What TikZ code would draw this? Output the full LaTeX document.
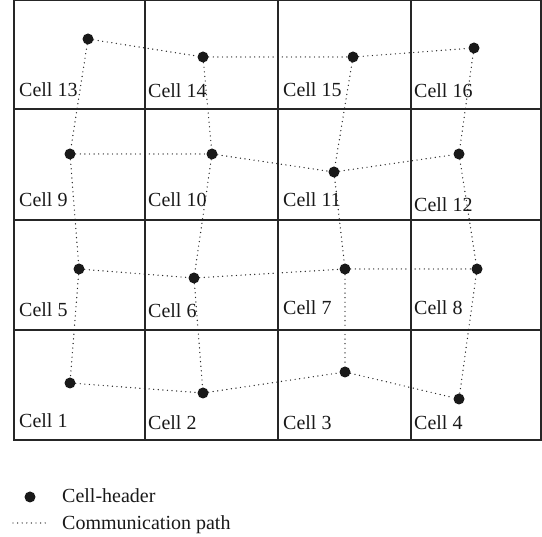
\documentclass[tikz,border=0pt]{standalone}
\usepackage{fontspec}
\setmainfont{Liberation Serif}
\begin{document}
\begin{tikzpicture}[x=1pt,y=-1pt,
  gridline/.style={draw=black!85,line width=1.2pt},
  hdr/.style={circle,fill=black!90,inner sep=0pt,minimum size=11pt},
  commpath/.style={draw=black!85,line width=1.4pt,line cap=round,dash pattern=on 0pt off 4.6pt},
  lbl/.style={anchor=base west,inner sep=0pt,text=black!90,font=\fontsize{20}{24}\selectfont}]
\useasboundingbox (0,0) rectangle (542,537);
% 4x4 grid of cells
\draw[gridline] (14,0.6) rectangle (541,440);
\foreach \xx in {145,278,411} \draw[gridline] (\xx,0.6) -- (\xx,440);
\foreach \yy in {109,220,330} \draw[gridline] (14,\yy) -- (541,\yy);
% cell labels
\node[lbl] (l13) at (19,97) {Cell 13};
\node[lbl] (l14) at (148,98) {Cell 14};
\node[lbl] (l15) at (283,97) {Cell 15};
\node[lbl] (l16) at (414,98) {Cell 16};
\node[lbl] (l9) at (19,207) {Cell 9};
\node[lbl] (l10) at (148,207) {Cell 10};
\node[lbl] (l11) at (283,207) {Cell 11};
\node[lbl] (l12) at (414,212) {Cell 12};
\node[lbl] (l5) at (19,317) {Cell 5};
\node[lbl] (l6) at (148,318) {Cell 6};
\node[lbl] (l7) at (283,315) {Cell 7};
\node[lbl] (l8) at (414,315) {Cell 8};
\node[lbl] (l1) at (19,428) {Cell 1};
\node[lbl] (l2) at (148,430) {Cell 2};
\node[lbl] (l3) at (283,430) {Cell 3};
\node[lbl] (l4) at (414,430) {Cell 4};
% cell headers
\node[hdr] (c13) at (88,39) {};
\node[hdr] (c14) at (203,57) {};
\node[hdr] (c15) at (353,57) {};
\node[hdr] (c16) at (474,48) {};
\node[hdr] (c9) at (70,154) {};
\node[hdr] (c10) at (212,154) {};
\node[hdr] (c11) at (334,172) {};
\node[hdr] (c12) at (459,154) {};
\node[hdr] (c5) at (79,269) {};
\node[hdr] (c6) at (194,278) {};
\node[hdr] (c7) at (345,269) {};
\node[hdr] (c8) at (477,269) {};
\node[hdr] (c1) at (70,383) {};
\node[hdr] (c2) at (203,393) {};
\node[hdr] (c3) at (345,372) {};
\node[hdr] (c4) at (459,399) {};
% communication paths along rows
\draw[commpath] (c13) -- (c14) -- (c15) -- (c16);
\draw[commpath] (c9) -- (c10) -- (c11) -- (c12);
\draw[commpath] (c5) -- (c6) -- (c7) -- (c8);
\draw[commpath] (c1) -- (c2) -- (c3) -- (c4);
% communication paths along columns
\draw[commpath] (c13) -- (c9) -- (c5) -- (c1);
\draw[commpath] (c14) -- (c10) -- (c6) -- (c2);
\draw[commpath] (c15) -- (c11) -- (c7) -- (c3);
\draw[commpath] (c16) -- (c12) -- (c8) -- (c4);
% legend
\node[hdr] (kdot) at (30,497) {};
\node[lbl] (khdr) at (62,503) {Cell-header};
\coordinate (ka) at (13,523);
\coordinate (kb) at (48,523);
\draw[commpath] (ka) -- (kb);
\node[lbl] (kpath) at (62,530) {Communication path};
\end{tikzpicture}
\end{document}
